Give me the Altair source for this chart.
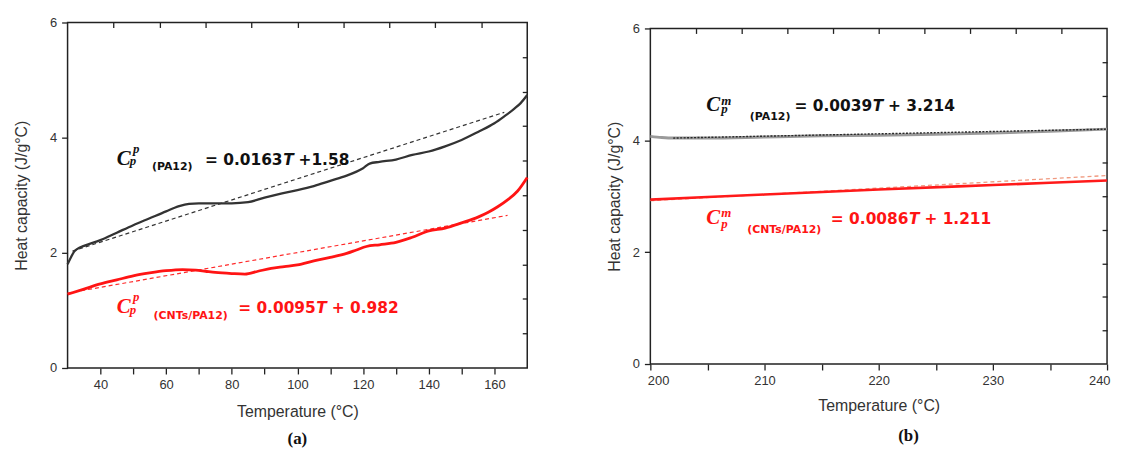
import altair as alt
import pandas as pd

# ---------------- panel (a) data ----------------
a_T_pa12 = [30, 31, 32, 33, 35, 40, 45, 50, 55, 60, 64, 67, 70, 75, 80, 85, 90, 95, 100, 105,
            110, 115, 118, 120, 122, 125, 130, 135, 140, 145, 150, 155, 160, 163, 166, 168, 170]
a_cp_pa12 = [1.80, 1.92, 2.02, 2.07, 2.12, 2.22, 2.35, 2.48, 2.60, 2.72, 2.81, 2.85, 2.86, 2.86, 2.86,
             2.88, 2.96, 3.03, 3.09, 3.16, 3.25, 3.34, 3.41, 3.47, 3.55, 3.58, 3.62, 3.70, 3.76, 3.85,
             3.96, 4.10, 4.25, 4.37, 4.50, 4.60, 4.74]
a_T_cnt = [30, 35, 40, 45, 50, 55, 60, 65, 69, 72, 75, 80, 84, 88, 92, 96, 100, 105, 110, 115,
           118, 121, 125, 130, 135, 140, 145, 150, 155, 158, 161, 164, 167, 170]
a_cp_cnt = [1.28, 1.37, 1.46, 1.53, 1.60, 1.65, 1.69, 1.71, 1.70, 1.68, 1.66, 1.64, 1.63, 1.68,
            1.73, 1.76, 1.79, 1.86, 1.92, 1.99, 2.05, 2.11, 2.14, 2.18, 2.27, 2.38, 2.43, 2.52,
            2.62, 2.70, 2.80, 2.92, 3.07, 3.31]
a_fit_T_pa12 = [31.5, 163]
a_fit_cp_pa12 = [2.03, 4.44]
a_fit_T_cnt = [30, 164]
a_fit_cp_cnt = [1.30, 2.65]

# ---------------- panel (b) data ----------------
b_T_pa12 = [200, 201, 202, 205, 210, 215, 220, 225, 230, 235, 240]
b_cp_pa12 = [4.07, 4.05, 4.04, 4.04, 4.06, 4.08, 4.09, 4.11, 4.13, 4.16, 4.20]
b_T_cnt = [200, 210, 220, 230, 240]
b_cp_cnt = [2.94, 3.03, 3.12, 3.20, 3.28]
b_fit_T_pa12 = [202, 240]
b_fit_cp_pa12 = [4.04, 4.20]
b_fit_T_cnt = [200, 240]
b_fit_cp_cnt = [2.92, 3.37]

# ---------------- axis ticks ----------------
a_bottom_ticks = [40, 50, 60, 70, 80, 90, 100, 110, 120, 130, 140, 150, 160]
a_bottom_labels = [40, 60, 80, 100, 120, 140, 160]
a_top_ticks = [44, 58, 72, 86, 100, 114, 128, 142, 156]
b_bottom_ticks = [200, 205, 210, 215, 220, 225, 230, 235, 240]
b_bottom_labels = [200, 210, 220, 230, 240]
b_top_ticks = [204, 208, 212, 216, 220, 224, 228, 232, 236]
y_ticks = [0, 2, 4, 6]
y_right_ticks = [0.6, 1.2, 1.8, 2.4, 3.0, 3.6, 4.2, 4.8, 5.4]

# ---------------- annotations ----------------
a_C_x = [45.0, 45.0]
a_C_y = [3.53, 0.96]
a_sup_x = [49.9, 49.9]
a_sup_y = [3.74, 1.17]
a_sup_t = ["p", "p"]
a_sub_x = [48.9, 48.9]
a_sub_y = [3.52, 0.94]
a_lab_x = [55.7, 56.2]
a_lab_y = [3.44, 0.845]
a_lab_t = ["(PA12)", "(CNTs/PA12)"]
a_eq_x = [71.85, 81.96]
a_eq_y = [3.53, 0.96]
a_eq_pre = ["= 0.0163", "= 0.0095"]
a_eq_suf = ["+1.58", "+ 0.982"]

b_C_x = [204.89, 204.89]
b_C_y = [4.52, 2.50]
b_sup_x = [206.2, 206.2]
b_sup_y = [4.64, 2.62]
b_sup_t = ["m", "m"]
b_sub_x = [206.2, 206.2]
b_sub_y = [4.48, 2.44]
b_lab_x = [208.71, 208.48]
b_lab_y = [4.36, 2.35]
b_lab_t = ["(PA12)", "(CNTs/PA12)"]
b_eq_x = [212.63, 215.81]
b_eq_y = [4.52, 2.50]
b_eq_pre = ["= 0.0039", "= 0.0086"]
b_eq_suf = ["+ 3.214", "+ 1.211"]

ann_colors = ["#111111", "#ff1414"]

AX_FONT = "Liberation Sans"
EQ_FONT = "DejaVu Sans"
EQ_SIZE = 15.5
SERIF = "Liberation Serif"


def bottom_axis(values, labels, tpad, flush=False):
    kw = dict(orient="bottom", values=values,
              labelExpr=f"indexof({labels}, datum.value) >= 0 ? datum.label : ''",
              title="Temperature (°C)", domain=False, tickSize=6, tickWidth=1.3,
              tickColor="#222222", labelFont=AX_FONT, labelFontSize=13, labelColor="#333333",
              labelPadding=5, labelOverlap=False, titleFont=AX_FONT,
              titleFontSize=16, titleFontWeight="normal", titleColor="#333333",
              titlePadding=tpad, grid=False)
    if flush:
        kw.update(labelFlush=True, labelFlushOffset=3)
    else:
        kw.update(labelFlush=False)
    return alt.Axis(**kw)


def left_axis(tpad):
    return alt.Axis(orient="left", values=y_ticks, title="Heat capacity (J/g°C)", domain=False,
                    tickSize=6, tickWidth=1.3, tickColor="#222222", labelFont=AX_FONT,
                    labelFontSize=13, labelColor="#333333", labelPadding=5, labelFlush=False,
                    titleFont=AX_FONT, titleFontSize=16, titleFontWeight="normal",
                    titleColor="#333333", titlePadding=tpad, grid=False)


def top_axis(values):
    return alt.Axis(orient="top", values=values, labels=False, domain=False, tickSize=5,
                    tickWidth=1.3, tickColor="#222222", offset=-5, grid=False, title=None)


def right_axis():
    return alt.Axis(orient="right", values=y_right_ticks, labels=False, domain=False, tickSize=5,
                    tickWidth=1.3, tickColor="#222222", offset=-5, title=None, grid=False)


def line_layer(T, cp, xscale, yscale, color, width, dash=None, xaxis=None, yaxis=None):
    df = pd.DataFrame({"T": T, "cp": cp})
    mk = dict(color=color, strokeWidth=width, interpolate="monotone")
    if dash:
        mk["strokeDash"] = dash
    return alt.Chart(df).mark_line(**mk).encode(
        x=alt.X("T:Q", scale=xscale, axis=xaxis),
        y=alt.Y("cp:Q", scale=yscale, axis=yaxis),
    )


def text_layer(xs, ys, texts, xscale, yscale, font, size, style="normal", weight="bold", dx=0):
    df = pd.DataFrame({"x": xs, "y": ys, "t": texts, "c": ann_colors})
    return alt.Chart(df).mark_text(font=font, fontSize=size, fontStyle=style, fontWeight=weight,
                                   align="left", baseline="alphabetic", dx=dx).encode(
        x=alt.X("x:Q", scale=xscale, axis=None),
        y=alt.Y("y:Q", scale=yscale, axis=None),
        text="t:N",
        color=alt.Color("c:N", scale=None),
    )


def annotations(C_x, C_y, sup_x, sup_y, sup_t, sub_x, sub_y, lab_x, lab_y, lab_t,
                eq_x, eq_y, eq_pre, eq_suf, xs, ys):
    em = EQ_SIZE
    pre_w = (0.838 + 0.348 + 5 * 0.696 + 0.381) * em
    t_w = 0.683 * em
    sp_w = 0.348 * em
    return [
        text_layer(C_x, C_y, ["C", "C"], xs, ys, SERIF, 21, "italic"),
        text_layer(sup_x, sup_y, sup_t, xs, ys, SERIF, 13, "italic"),
        text_layer(sub_x, sub_y, ["p", "p"], xs, ys, SERIF, 13, "italic"),
        text_layer(lab_x, lab_y, lab_t, xs, ys, EQ_FONT, 11),
        text_layer(eq_x, eq_y, eq_pre, xs, ys, EQ_FONT, EQ_SIZE),
        text_layer(eq_x, eq_y, ["T", "T"], xs, ys, EQ_FONT, EQ_SIZE, "italic", dx=pre_w + 0.5),
        text_layer(eq_x, eq_y, eq_suf, xs, ys, EQ_FONT, EQ_SIZE, dx=pre_w + t_w + sp_w),
    ]


def caption(text, dx, off):
    return alt.TitleParams(text=text, orient="bottom", anchor="middle", frame="group",
                           font=SERIF, fontSize=17, fontWeight="bold", color="#111111",
                           offset=off, dx=dx)


ys = alt.Scale(domain=[0, 6], nice=False, zero=False)

# ---------------- panel (a) ----------------
xa = alt.Scale(domain=[30, 170], nice=False, zero=False)
panel_a = alt.layer(
    line_layer(a_T_pa12, a_cp_pa12, xa, ys, "#333333", 2.3,
               xaxis=bottom_axis(a_bottom_ticks, a_bottom_labels, 12), yaxis=left_axis(20)),
    line_layer(a_fit_T_pa12, a_fit_cp_pa12, xa, ys, "#333333", 1.2, dash=[4, 3],
               xaxis=top_axis(a_top_ticks), yaxis=right_axis()),
    line_layer(a_fit_T_cnt, a_fit_cp_cnt, xa, ys, "#ff2a2a", 1.2, dash=[4, 3]),
    line_layer(a_T_cnt, a_cp_cnt, xa, ys, "#ff1414", 2.8),
    *annotations(a_C_x, a_C_y, a_sup_x, a_sup_y, a_sup_t, a_sub_x, a_sub_y, a_lab_x, a_lab_y,
                 a_lab_t, a_eq_x, a_eq_y, a_eq_pre, a_eq_suf, xa, ys),
).resolve_axis(x="independent", y="independent").properties(
    width=463, height=348, title=caption("(a)", 0, 12))

# ---------------- panel (b) ----------------
xb = alt.Scale(domain=[200, 240], nice=False, zero=False)
panel_b = alt.layer(
    line_layer(b_T_pa12, b_cp_pa12, xb, ys, "#9a9a9a", 3.0,
               xaxis=bottom_axis(b_bottom_ticks, b_bottom_labels, 10, flush=True),
               yaxis=left_axis(10)),
    line_layer(b_fit_T_pa12, b_fit_cp_pa12, xb, ys, "#2a2a2a", 1.4, dash=[2, 1.5],
               xaxis=top_axis(b_top_ticks), yaxis=right_axis()),
    line_layer(b_fit_T_cnt, b_fit_cp_cnt, xb, ys, "#f09a80", 1.3, dash=[4, 3]),
    line_layer(b_T_cnt, b_cp_cnt, xb, ys, "#ff1a1a", 2.6),
    *annotations(b_C_x, b_C_y, b_sup_x, b_sup_y, b_sup_t, b_sub_x, b_sub_y, b_lab_x, b_lab_y,
                 b_lab_t, b_eq_x, b_eq_y, b_eq_pre, b_eq_suf, xb, ys),
).resolve_axis(x="independent", y="independent").properties(
    width=460, height=338, title=caption("(b)", 30, 15))

# invisible spacer that lowers panel (b) a few pixels, as in the reference
spacer = alt.Chart(pd.DataFrame({"v": [0]})).mark_point(opacity=0, size=0).encode(
    x=alt.value(0), y=alt.value(0)
).properties(width=460, height=1, view=alt.ViewBackground(stroke="transparent"))

right_col = alt.vconcat(spacer, panel_b, spacing=-3)

chart = alt.hconcat(panel_a, right_col, spacing=72).properties(
    padding={"left": 5, "top": 6, "right": 0, "bottom": 0}, background="white"
).configure_view(stroke="#222222", strokeWidth=1.5)

chart.save("out.html", embed_options={"renderer": "svg", "actions": False})
